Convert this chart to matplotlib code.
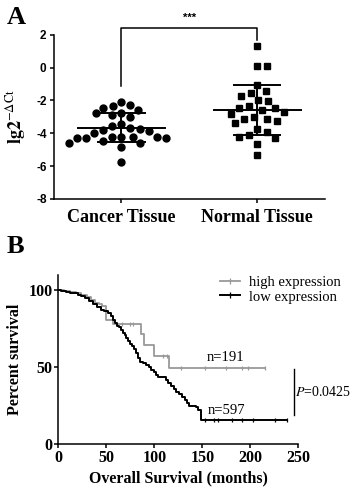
import numpy as np
import matplotlib
matplotlib.use("Agg")
import matplotlib.pyplot as plt
from matplotlib.lines import Line2D

plt.rcParams['font.family'] = ['Liberation Serif', 'DejaVu Serif']
plt.rcParams['mathtext.fontset'] = 'stix'
plt.rcParams['axes.unicode_minus'] = False

# ---- panel A data ----
groups = ["Cancer Tissue", "Normal Tissue"]
cancer = [-2.07, -2.29, -2.43, -2.33, -2.61, -2.78, -2.78, -2.90, -3.02,
          -3.43, -3.53, -3.65, -3.77, -3.71, -3.89, -3.96,
          -4.20, -4.20, -4.20, -4.20, -4.28, -4.26, -4.28, -4.48,
          -4.57, -4.57, -4.83, -5.72]
normal = [1.30, 0.12, 0.12, -1.08, -1.56, -1.43, -1.75, -2.05, -2.00,
          -2.45, -2.33, -2.70, -2.57, -2.49, -2.80, -2.98, -3.10, -3.10,
          -3.24, -3.38, -3.75, -3.91, -4.10, -4.28, -4.22, -4.63, -5.30]
means = [-3.65, -2.57]
sds = [0.88, 1.52]

# ---- panel B data ----
low_t = [0, 3, 8, 12, 16, 20, 24, 28, 32, 36, 40, 44, 48, 52, 55, 57, 59,
         61, 63, 65, 67, 69, 71, 73, 75, 77, 79, 81, 83, 85, 88, 91, 94, 97,
         100, 102, 104, 112, 114, 117, 120, 123, 126, 129, 132, 134, 136,
         143, 146, 149, 238]
low_s = [100, 99.5, 99, 98.5, 98, 97, 96, 95, 93, 91, 89, 87.5, 86.5, 85,
         83.5, 81, 79, 77, 76, 74, 72.5, 71, 69, 67, 65, 63.5, 62, 59, 56,
         53.5, 52.5, 51.5, 50, 48.5, 47, 45, 44, 42, 40, 38, 36, 34, 32.5,
         30.5, 28.5, 26.5, 25, 24, 22, 16, 16]
high_t = [0, 6, 12, 18, 24, 30, 34, 38, 42, 46, 50, 57, 86, 89, 100, 115, 215]
high_s = [100, 99.5, 99, 98, 97, 95.5, 94, 92, 91, 89.5, 80.5, 78, 71.5,
          64.5, 57.5, 49.5, 49.5]
low_cens = [153, 162, 166, 181, 191, 203, 226, 238]
high_cens = [66, 75, 78, 109, 113, 128, 153, 175, 191, 198, 215]


def step_value(t, times, surv):
    idx = np.searchsorted(times, t, side='right') - 1
    return np.asarray(surv)[idx]


def swarm(ax, center, values, diam):
    # simple beeswarm in pixel space
    to_px = ax.transData
    px_per_x = to_px.transform((1, 0))[0] - to_px.transform((0, 0))[0]
    ys = [to_px.transform((0, v))[1] for v in values]
    order = np.argsort(values)[::-1]
    placed = []
    xs = np.zeros(len(values))
    for i in order:
        y = ys[i]
        for k in range(400):
            off = (k + 1) // 2 * 0.5 * (1 if k % 2 else -1)
            ok = all((off - px) ** 2 + (y - py) ** 2 >= diam ** 2 for px, py in placed)
            if ok:
                break
        placed.append((off, y))
        xs[i] = center + off / px_per_x
    return xs


fig = plt.figure(figsize=(3.5, 4.9), dpi=100)

# ---------------- panel A ----------------
ax1 = fig.add_axes([0.153, 0.594, 0.776, 0.335])
ax1.set_xlim(-0.5, 1.5)
ax1.set_ylim(-8, 2)

x_c = swarm(ax1, 0, cancer, 9.3)
x_n = swarm(ax1, 1, normal, 10.0)
ax1.plot(x_c, cancer, 'o', color='black', ms=5.0, clip_on=False)
ax1.plot(x_n, normal, 's', color='black', ms=4.6, clip_on=False)

for i, (m, s) in enumerate(zip(means, sds)):
    ax1.plot([i - 0.32, i + 0.32], [m, m], color='black', lw=1.4)
    ax1.plot([i - 0.17, i + 0.17], [m + s, m + s], color='black', lw=1.4)
    ax1.plot([i - 0.17, i + 0.17], [m - s, m - s], color='black', lw=1.4)
    ax1.plot([i, i], [m - s, m + s], color='black', lw=1.4)

# significance bracket
ax1.plot([0, 0, 1, 1], [-1.15, 2.4, 2.4, 1.7], color='black', lw=1.1, clip_on=False)
ax1.text(0.5, 2.75, '***', ha='center', va='bottom', fontsize=8,
         family=['Liberation Sans'], fontweight='bold')

ax1.set_xticks([0, 1])
ax1.set_xticklabels(groups, fontsize=13, fontweight='bold')
ax1.set_yticks([-8, -6, -4, -2, 0, 2])
ax1.set_yticklabels(['-8', '-6', '-4', '-2', '0', '2'], family=['Liberation Sans'],
                    fontweight='bold', fontsize=8.5)
ax1.tick_params(axis='both', length=3, width=1.1, pad=2)
ax1.tick_params(axis='x', pad=4)
ax1.set_ylabel(r'$\mathbf{lg2}^{-\Delta\mathrm{Ct}}$', fontsize=13, labelpad=6)
for sp in ['top', 'right']:
    ax1.spines[sp].set_visible(False)
for sp in ['left', 'bottom']:
    ax1.spines[sp].set_linewidth(1.1)

fig.text(0.02, 0.95, 'A', fontsize=19, fontweight='bold')

# ---------------- panel B ----------------
ax2 = fig.add_axes([0.1666, 0.0933, 0.6857, 0.3457])
ax2.set_xlim(0, 250)
ax2.set_ylim(0, 110)

grey = '#999999'
ax2.step(high_t, high_s, where='post', color=grey, lw=1.3)
ax2.step(low_t, low_s, where='post', color='black', lw=1.4)
ax2.plot(high_cens, step_value(high_cens, high_t, high_s), '|', color=grey, ms=3.5, mew=0.9)
ax2.plot(low_cens, step_value(low_cens, low_t, low_s), '|', color='black', ms=3.5, mew=0.9)

ax2.text(155, 54, 'n=191', fontsize=10.5)
ax2.text(156, 19.5, 'n=597', fontsize=10.5)

# p-value bar
ax2.plot([245, 245], [19, 49], color='black', lw=1.0, clip_on=False)
ax2.text(246.5, 34, '$P$=0.0425', fontsize=10, va='center', clip_on=False)

handles = [Line2D([], [], color=grey, lw=1.3, marker='|', ms=4, mew=0.9),
           Line2D([], [], color='black', lw=1.4, marker='|', ms=4, mew=0.9)]
ax2.legend(handles, ['high expression', 'low expression'], loc='upper right',
           bbox_to_anchor=(1.2, 1.03), frameon=False, fontsize=10.5,
           handlelength=1.4, handletextpad=0.6, labelspacing=0.1, borderaxespad=0)

ax2.set_xticks([0, 50, 100, 150, 200, 250])
ax2.set_yticks([0, 50, 100])
ax2.set_xticklabels(['0', '50', '100', '150', '200', '250'], fontweight='bold', fontsize=11.5)
ax2.set_yticklabels(['0', '50', '100'], fontweight='bold', fontsize=11.5)
ax2.tick_params(axis='both', length=3, width=1.1, pad=1)
ax2.set_xlabel('Overall Survival (months)', fontsize=11.5, fontweight='bold', labelpad=3)
ax2.set_ylabel('Percent survival', fontsize=11.5, fontweight='bold', labelpad=4)
for sp in ['top', 'right']:
    ax2.spines[sp].set_visible(False)
for sp in ['left', 'bottom']:
    ax2.spines[sp].set_linewidth(1.1)

fig.text(0.02, 0.483, 'B', fontsize=19, fontweight='bold')

plt.savefig('out.png', dpi=100)
